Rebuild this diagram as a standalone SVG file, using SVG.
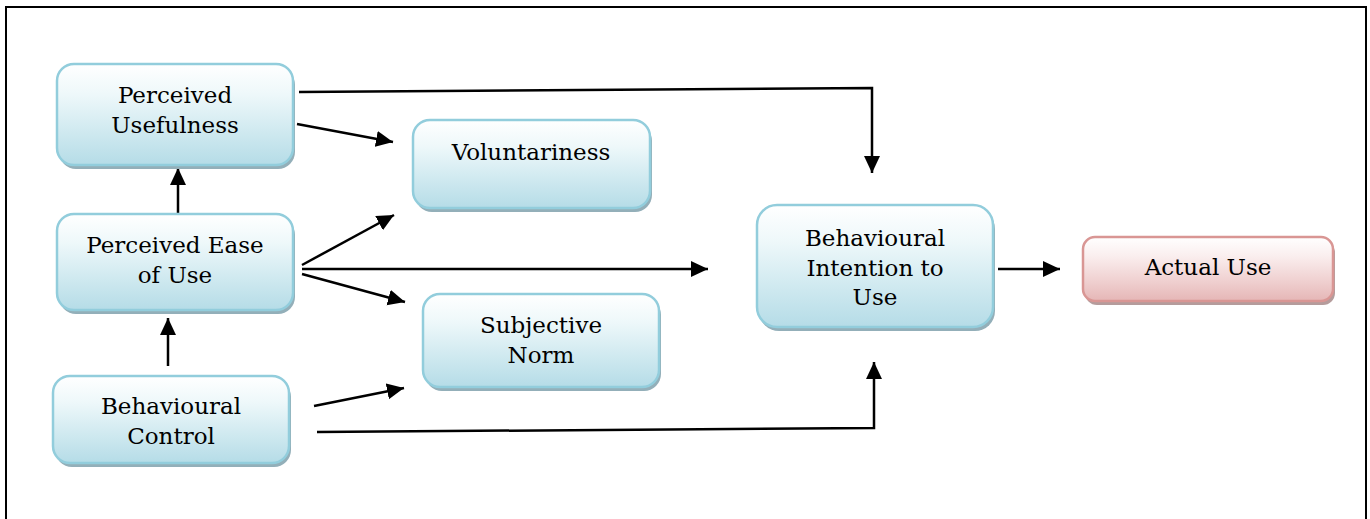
<svg xmlns="http://www.w3.org/2000/svg" width="1370" height="519" viewBox="0 0 1370 519">
<defs>
  <linearGradient id="gBlue" x1="0" y1="0" x2="0" y2="1">
    <stop offset="0" stop-color="#ffffff"/>
    <stop offset="0.3" stop-color="#eef8fa"/>
    <stop offset="0.7" stop-color="#cde8ef"/>
    <stop offset="1" stop-color="#b5dce7"/>
  </linearGradient>
  <linearGradient id="gPink" x1="0" y1="0" x2="0" y2="1">
    <stop offset="0" stop-color="#ffffff"/>
    <stop offset="0.3" stop-color="#faeeee"/>
    <stop offset="0.7" stop-color="#efcfcf"/>
    <stop offset="1" stop-color="#e5b6b6"/>
  </linearGradient>
  <marker id="arrow" markerUnits="userSpaceOnUse" markerWidth="19" markerHeight="17" refX="17" refY="8" orient="auto">
    <path d="M0,0 L17,8 L0,16 Z" fill="#000"/>
  </marker>
  <style>
    .box { fill: url(#gBlue); stroke: #92cddc; stroke-width: 2.5; }
    .shadow { fill: #93afb9; }
    .pbox { fill: url(#gPink); stroke: #d99694; stroke-width: 2.5; }
    .pshadow { fill: #b59c9c; }
    .lbl { font-family: "DejaVu Serif", "Liberation Serif", serif; font-size: 23px; fill: #000; text-anchor: middle; }
    .conn { stroke: #000; stroke-width: 2.5; fill: none; }
  </style>
</defs>
<rect x="0" y="0" width="1370" height="519" fill="#ffffff"/>
<rect id="frame" x="6" y="7" width="1360" height="600" fill="none" stroke="#000" stroke-width="2"/>

<g id="connectors">
  <polyline class="conn" points="299,92 872,88 872,173" marker-end="url(#arrow)"/>
  <line class="conn" x1="297" y1="124" x2="393" y2="142" marker-end="url(#arrow)"/>
  <line class="conn" x1="178" y1="213" x2="178" y2="168" marker-end="url(#arrow)"/>
  <line class="conn" x1="302" y1="265" x2="394" y2="215" marker-end="url(#arrow)"/>
  <line class="conn" x1="302" y1="269" x2="708" y2="269" marker-end="url(#arrow)"/>
  <line class="conn" x1="302" y1="274" x2="405" y2="302" marker-end="url(#arrow)"/>
  <line class="conn" x1="168" y1="366" x2="168" y2="318" marker-end="url(#arrow)"/>
  <line class="conn" x1="314" y1="406" x2="404" y2="388" marker-end="url(#arrow)"/>
  <polyline class="conn" points="317,432 874,428 874,362" marker-end="url(#arrow)"/>
  <line class="conn" x1="998" y1="269" x2="1060" y2="269" marker-end="url(#arrow)"/>
</g>

<g id="perceived-usefulness">
  <rect class="shadow" x="59" y="68" width="236" height="101" rx="17"/>
  <rect class="box" x="57" y="64" width="236" height="101" rx="17"/>
  <text class="lbl" x="175" y="103">Perceived</text>
  <text class="lbl" x="175" y="133">Usefulness</text>
</g>

<g id="perceived-ease-of-use">
  <rect class="shadow" x="59" y="218" width="236" height="96" rx="17"/>
  <rect class="box" x="57" y="214" width="236" height="96" rx="17"/>
  <text class="lbl" x="175" y="253">Perceived Ease</text>
  <text class="lbl" x="175" y="283">of Use</text>
</g>

<g id="behavioural-control">
  <rect class="shadow" x="55" y="380" width="236" height="87" rx="17"/>
  <rect class="box" x="53" y="376" width="236" height="87" rx="17"/>
  <text class="lbl" x="171" y="414">Behavioural</text>
  <text class="lbl" x="171" y="444">Control</text>
</g>

<g id="voluntariness">
  <rect class="shadow" x="415" y="124" width="237" height="88" rx="17"/>
  <rect class="box" x="413" y="120" width="237" height="88" rx="17"/>
  <text class="lbl" x="531" y="160">Voluntariness</text>
</g>

<g id="subjective-norm">
  <rect class="shadow" x="425" y="298" width="236" height="93" rx="17"/>
  <rect class="box" x="423" y="294" width="236" height="93" rx="17"/>
  <text class="lbl" x="541" y="333">Subjective</text>
  <text class="lbl" x="541" y="363">Norm</text>
</g>

<g id="behavioural-intention">
  <rect class="shadow" x="759" y="209" width="236" height="122" rx="20"/>
  <rect class="box" x="757" y="205" width="236" height="122" rx="20"/>
  <text class="lbl" x="875" y="246">Behavioural</text>
  <text class="lbl" x="875" y="276">Intention to</text>
  <text class="lbl" x="875" y="305">Use</text>
</g>

<g id="actual-use">
  <rect class="pshadow" x="1085" y="241" width="250" height="64" rx="12"/>
  <rect class="pbox" x="1083" y="237" width="250" height="64" rx="12"/>
  <text class="lbl" x="1208" y="275">Actual Use</text>
</g>
</svg>
